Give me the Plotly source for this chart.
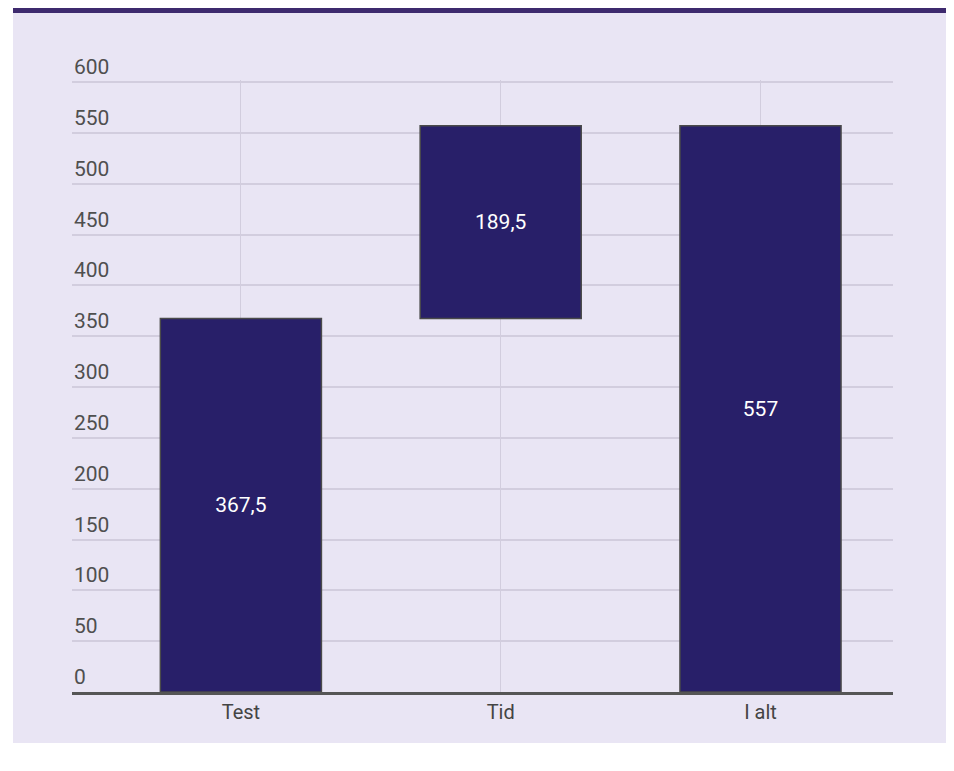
import plotly.graph_objects as go

categories = ["Test", "Tid", "I alt"]
values = [367.5, 189.5]
measures = ["relative", "relative", "total"]
y_tickvals = [0, 50, 100, 150, 200, 250, 300, 350, 400, 450, 500, 550, 600]
y_ticktext = ["0", "50", "100", "150", "200", "250", "300", "350", "400", "450", "500", "550", "600"]

total = sum(values)
wf_values = values + [total]


def fmt(v):
    return f"{v:g}".replace(".", ",")


labels = [fmt(v) for v in wf_values]

BAR = "#281F69"
EDGE = "#4A4A4A"
LAV = "#E9E5F4"
BAND = "#3E2A6E"
GRID = "#D2CDDE"
FONT = "Roboto"

fig = go.Figure(go.Waterfall(
    x=categories,
    y=wf_values,
    measure=measures,
    text=labels,
    texttemplate="%{text}",
    textposition="inside",
    insidetextanchor="middle",
    textfont=dict(family=FONT, size=21, color="white"),
    increasing=dict(marker=dict(color=BAR, line=dict(color=EDGE, width=1.5))),
    decreasing=dict(marker=dict(color=BAR, line=dict(color=EDGE, width=1.5))),
    totals=dict(marker=dict(color=BAR, line=dict(color=EDGE, width=1.5))),
    connector=dict(visible=False),
    width=0.62,
    hoverinfo="skip",
))

W, H = 946, 763
L, R, T, B = 64, 61, 72, 79
pw = W - L - R
ph = H - T - B


def px_x(x):
    return (x - L) / pw


def px_y(y):
    return (H - B - y) / ph


annotations = [
    dict(x=0, xref="paper", y=v, yref="y", text=t, showarrow=False,
         xanchor="left", yanchor="middle", yshift=15,
         font=dict(family=FONT, size=21, color="#4F4F4F"))
    for v, t in zip(y_tickvals, y_ticktext)
]

fig.update_layout(
    width=W, height=H,
    margin=dict(l=L, r=R, t=T, b=B),
    paper_bgcolor="white",
    plot_bgcolor="rgba(0,0,0,0)",
    showlegend=False,
    font=dict(family=FONT, size=20, color="#444"),
    xaxis=dict(
        range=[-0.65, 2.51],
        showgrid=True, gridcolor=GRID, gridwidth=1,
        showline=True, linecolor="#555", linewidth=3,
        zeroline=False,
        tickfont=dict(family=FONT, size=20, color="#444"),
        ticks="", fixedrange=True,
    ),
    yaxis=dict(
        range=[0, 602],
        tickvals=y_tickvals,
        showgrid=True, gridcolor=GRID, gridwidth=1.5,
        zeroline=False, showline=False,
        showticklabels=False,
        ticks="", fixedrange=True,
    ),
    annotations=annotations,
    shapes=[
        dict(type="rect", xref="paper", yref="paper", layer="below",
             x0=px_x(5), x1=px_x(W + 5), y0=px_y(735), y1=px_y(0),
             fillcolor=LAV, line=dict(width=0)),
        dict(type="rect", xref="paper", yref="paper", layer="below",
             x0=px_x(5), x1=px_x(W + 5), y0=px_y(5), y1=px_y(0),
             fillcolor=BAND, line=dict(width=0)),
    ],
)

fig.write_html("out.html")
